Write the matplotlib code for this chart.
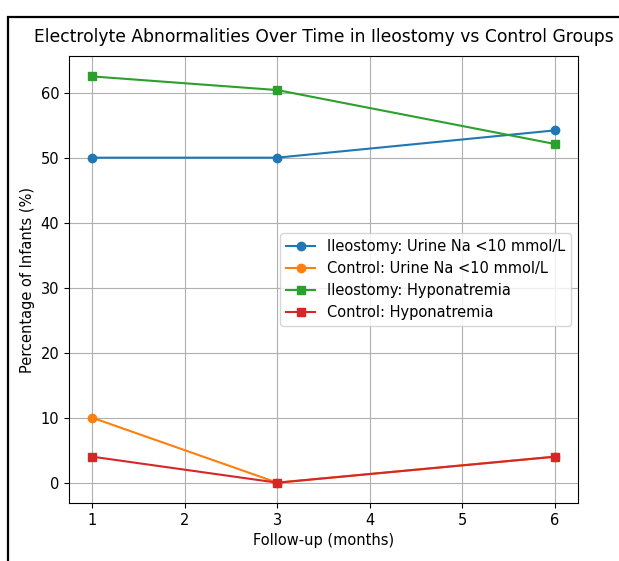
import matplotlib
matplotlib.use("Agg")
import matplotlib.pyplot as plt
from matplotlib.patches import Rectangle

months = [1, 3, 6]
ileo_urine_na = [50.0, 50.0, 54.2]
ctrl_urine_na = [10.0, 0.0, 4.0]
ileo_hypona = [62.5, 60.4, 52.1]
ctrl_hypona = [4.0, 0.0, 4.0]

fig = plt.figure(figsize=(6.19, 5.61), dpi=100)
ax = fig.add_axes([0.1115, 0.1034, 0.8225, 0.7966])

ax.plot(months, ileo_urine_na, marker="o", label="Ileostomy: Urine Na <10 mmol/L")
ax.plot(months, ctrl_urine_na, marker="o", label="Control: Urine Na <10 mmol/L")
ax.plot(months, ileo_hypona, marker="s", label="Ileostomy: Hyponatremia")
ax.plot(months, ctrl_hypona, marker="s", label="Control: Hyponatremia")

ax.set_title("Electrolyte Abnormalities Over Time in Ileostomy vs Control Groups",
             fontsize=12.3, pad=10)
ax.set_xlabel("Follow-up (months)", fontsize=10.5)
ax.set_ylabel("Percentage of Infants (%)", fontsize=10.5)
ax.tick_params(labelsize=10.5)
ax.grid(True)
ax.legend(loc="center right", bbox_to_anchor=(1.0, 0.5), fontsize=10.5)

# screenshot frame (only left/top edges visible)
fig.add_artist(Rectangle((8 / 619, -0.1), 1.2, 1.1 - 17 / 561,
                         transform=fig.transFigure, fill=False,
                         edgecolor="black", linewidth=1.6))

fig.savefig("out.png", dpi=100)
